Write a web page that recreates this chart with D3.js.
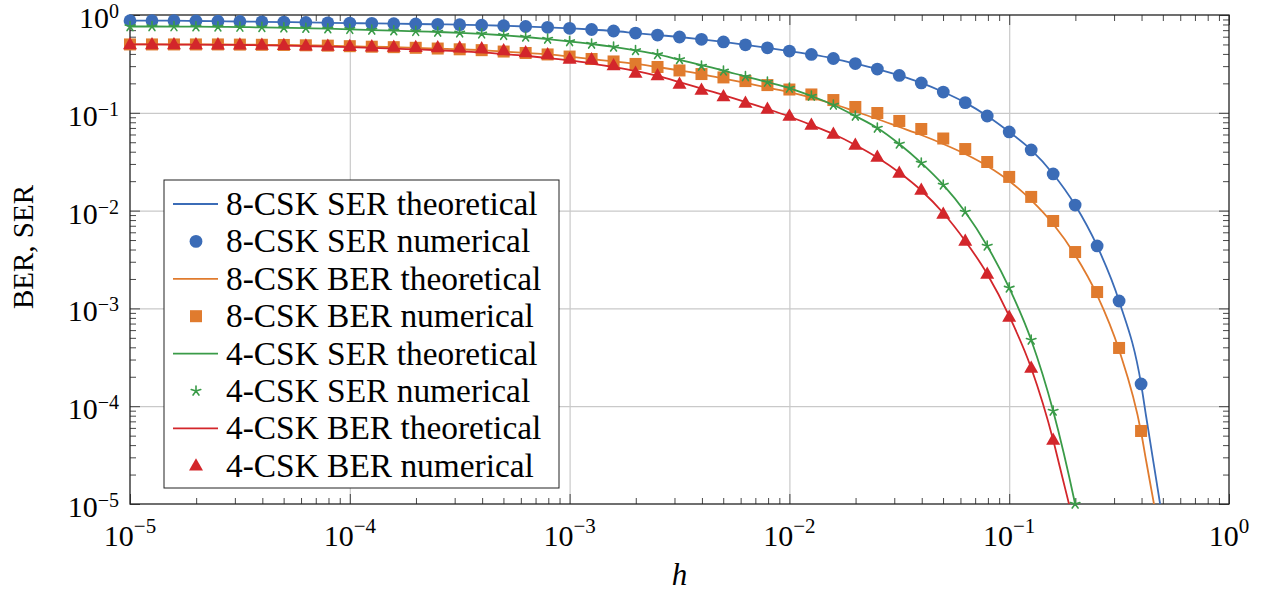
<!DOCTYPE html>
<html><head><meta charset="utf-8">
<script src="https://cdn.jsdelivr.net/npm/d3@7"></script>
<style>
body{margin:0;background:#fff}
svg{display:block}
text{font-family:"Liberation Serif","DejaVu Serif",serif;fill:#000}
</style>
</head><body>
<svg id="chart" width="1271" height="593"></svg>
<script>
// ---------------- data ----------------
const hValues = [1e-5,1.259e-5,1.585e-5,1.995e-5,2.512e-5,3.162e-5,3.981e-5,5.012e-5,6.31e-5,7.943e-5,
  1e-4,1.259e-4,1.585e-4,1.995e-4,2.512e-4,3.162e-4,3.981e-4,5.012e-4,6.31e-4,7.943e-4,
  1e-3,1.259e-3,1.585e-3,1.995e-3,2.512e-3,3.162e-3,3.981e-3,5.012e-3,6.31e-3,7.943e-3,
  1e-2,1.259e-2,1.585e-2,1.995e-2,2.512e-2,3.162e-2,3.981e-2,5.012e-2,6.31e-2,7.943e-2,
  0.1,0.1259,0.1585,0.1995,0.2512,0.3162,0.3981];

const ser8Num = [0.874,0.874,0.874,0.868,0.864,0.858,0.852,0.846,0.840,0.832,
  0.826,0.821,0.815,0.809,0.803,0.796,0.787,0.776,0.763,0.748,
  0.731,0.711,0.686,0.654,0.624,0.596,0.564,0.530,0.496,0.462,
  0.428,0.395,0.359,0.319,0.280,0.241,0.202,0.163,0.127,0.0927,
  0.0637,0.0417,0.0237,0.0114,0.00435,0.00119,0.000169];
const ser8Th = [0.874,0.874,0.874,0.868,0.864,0.858,0.852,0.846,0.840,0.832,
  0.826,0.821,0.815,0.809,0.803,0.796,0.787,0.776,0.763,0.748,
  0.731,0.711,0.686,0.654,0.624,0.596,0.564,0.530,0.496,0.462,
  0.428,0.395,0.359,0.319,0.280,0.241,0.202,0.163,0.127,0.0927,
  0.0637,0.0417,0.0237,0.0114,0.00435,0.00119,0.000169];
const ser8ThTailH = [0.42,0.447,0.473,0.5];
const ser8ThTail  = [7.8e-5,3.24e-5,1.46e-5,6.7e-6];

const ber8Num = [0.500,0.500,0.500,0.500,0.500,0.498,0.496,0.494,0.490,0.486,
  0.480,0.474,0.469,0.462,0.454,0.446,0.437,0.423,0.409,0.395,
  0.376,0.355,0.335,0.316,0.294,0.271,0.249,0.230,0.211,0.192,
  0.173,0.154,0.135,0.1147,0.0995,0.0825,0.0683,0.0546,0.0426,0.0314,
  0.0221,0.0138,0.00783,0.00377,0.00147,0.000394,0.0000558];
const ber8Th = [0.500,0.500,0.500,0.500,0.500,0.498,0.496,0.494,0.490,0.486,
  0.480,0.474,0.469,0.462,0.454,0.446,0.437,0.423,0.409,0.395,
  0.376,0.355,0.335,0.316,0.294,0.271,0.249,0.224,0.202,0.181,
  0.163,0.143,0.123,0.1031,0.0864,0.0716,0.0593,0.0480,0.0379,0.0286,
  0.0201,0.0128,0.00729,0.00352,0.00137,0.000375,0.0000545];
const ber8ThTailH = [0.42,0.447,0.473];
const ber8ThTail  = [2.75e-5,1.27e-5,6.3e-6];

const ser4Num = [0.763,0.763,0.761,0.759,0.756,0.752,0.747,0.740,0.733,0.724,
  0.714,0.702,0.691,0.681,0.670,0.658,0.642,0.621,0.596,0.568,
  0.536,0.505,0.471,0.434,0.395,0.351,0.301,0.268,0.235,0.206,
  0.179,0.1485,0.1202,0.0927,0.0699,0.0480,0.0307,0.0183,0.00967,0.00435,
  0.00162,0.000475,0.0000893,0.00001];
const ser4Th = [0.763,0.763,0.761,0.759,0.756,0.752,0.747,0.740,0.733,0.724,
  0.714,0.702,0.691,0.681,0.670,0.658,0.642,0.621,0.596,0.568,
  0.536,0.505,0.471,0.434,0.395,0.348,0.307,0.270,0.235,0.206,
  0.179,0.1485,0.1202,0.0927,0.0699,0.0480,0.0307,0.0183,0.00967,0.00435,
  0.00162,0.000475,0.0000893,0.00001];
const ser4ThTailH = [0.22];
const ser4ThTail  = [3.4e-6];

const ber4Num = [0.500,0.500,0.500,0.499,0.498,0.496,0.494,0.490,0.486,0.482,
  0.479,0.475,0.472,0.469,0.465,0.462,0.454,0.434,0.414,0.395,
  0.355,0.351,0.305,0.255,0.241,0.197,0.171,0.1468,0.126,0.1094,
  0.0927,0.0750,0.0607,0.0469,0.0353,0.0242,0.01624,0.00923,0.00489,0.00225,
  0.000817,0.000246,0.0000451];
const ber4Th = [0.500,0.500,0.499,0.498,0.496,0.494,0.490,0.486,0.481,0.475,
  0.469,0.461,0.453,0.445,0.436,0.425,0.414,0.399,0.383,0.363,
  0.343,0.319,0.294,0.268,0.238,0.206,0.177,0.152,0.129,0.1094,
  0.0917,0.0750,0.0607,0.0469,0.0349,0.0245,0.01605,0.00945,0.00489,0.00225,
  0.000836,0.000246,0.0000451];
const ber4ThTailH = [0.17,0.18,0.19];
const ber4ThTail  = [2.39e-5,1.42e-5,8.7e-6];

const majorTicks = [1e-5,1e-4,1e-3,1e-2,1e-1,1];
const majorExp = ["−5","−4","−3","−2","−1","0"];
const legendLabels = ["8-CSK SER theoretical","8-CSK SER numerical","8-CSK BER theoretical","8-CSK BER numerical",
  "4-CSK SER theoretical","4-CSK SER numerical","4-CSK BER theoretical","4-CSK BER numerical"];
const xLabel = "h";
const yLabel = "BER, SER";

// ---------------- layout ----------------
const FONT = "Liberation Serif, DejaVu Serif, serif";
const L = 130, R = 1229, T = 15, B = 504;
const svg = d3.select("#chart");
const x = d3.scaleLog().domain([1e-5, 1]).range([L, R]);
const y = d3.scaleLog().domain([1e-5, 1]).range([B, T]);

const colors = {blue:"#3b6cb7", orange:"#e07b2e", green:"#3a9b48", red:"#d3262b"};

const minorTicks = [];
for (let e = -5; e < 0; e++) for (let m = 2; m <= 9; m++) minorTicks.push(m * Math.pow(10, e));

// grid
const grid = svg.append("g").attr("class","grid");
grid.append("g").attr("transform",`translate(0,${B})`)
  .call(d3.axisBottom(x).tickValues(majorTicks.slice(1,-1)).tickSize(-(B-T)).tickFormat(""))
  .call(g=>g.select(".domain").remove())
  .call(g=>g.selectAll("line").attr("stroke","#c9c9c9").attr("stroke-width",1.2));
grid.append("g").attr("transform",`translate(${L},0)`)
  .call(d3.axisLeft(y).tickValues(majorTicks.slice(1,-1)).tickSize(-(R-L)).tickFormat(""))
  .call(g=>g.select(".domain").remove())
  .call(g=>g.selectAll("line").attr("stroke","#c9c9c9").attr("stroke-width",1.2));

// ticks (inward on all sides)
function tickAxis(axisFn, scale, vals, size, transform) {
  svg.append("g").attr("transform", transform)
    .call(axisFn(scale).tickValues(vals).tickSize(-size).tickFormat(""))
    .call(g=>g.select(".domain").remove())
    .call(g=>g.selectAll("line").attr("stroke","#333").attr("stroke-width",0.9));
}
tickAxis(d3.axisBottom, x, majorTicks, 10, `translate(0,${B})`);
tickAxis(d3.axisBottom, x, minorTicks, 6, `translate(0,${B})`);
tickAxis(d3.axisTop, x, majorTicks, 10, `translate(0,${T})`);
tickAxis(d3.axisTop, x, minorTicks, 6, `translate(0,${T})`);
tickAxis(d3.axisLeft, y, majorTicks, 10, `translate(${L},0)`);
tickAxis(d3.axisLeft, y, minorTicks, 6, `translate(${L},0)`);
tickAxis(d3.axisRight, y, majorTicks, 10, `translate(${R},0)`);
tickAxis(d3.axisRight, y, minorTicks, 6, `translate(${R},0)`);

// frame
svg.append("rect").attr("x",L).attr("y",T).attr("width",R-L).attr("height",B-T)
  .attr("fill","none").attr("stroke","#222").attr("stroke-width",1.3);

// tick labels
majorTicks.forEach((v,i)=>{
  const tx = svg.append("text").attr("x", x(v)).attr("y", 546).attr("text-anchor","middle")
    .attr("font-family",FONT).attr("font-size",30);
  tx.append("tspan").text("10");
  tx.append("tspan").attr("dy",-13).attr("font-size",21).text(majorExp[i]);
  const ty = svg.append("text").attr("x", 119).attr("y", y(v)+13).attr("text-anchor","end")
    .attr("font-family",FONT).attr("font-size",30);
  ty.append("tspan").text("10");
  ty.append("tspan").attr("dy",-10).attr("font-size",20).text(majorExp[i]);
});

// axis labels
svg.append("text").attr("x",(L+R)/2).attr("y",585).attr("text-anchor","middle")
  .attr("font-family",FONT).attr("font-size",31).attr("font-style","italic").text(xLabel);
svg.append("text").attr("transform",`translate(33,247) rotate(-90)`).attr("text-anchor","middle")
  .attr("font-family",FONT).attr("font-size",29).text(yLabel);

// clip
svg.append("defs").append("clipPath").attr("id","clip")
  .append("rect").attr("x",L).attr("y",T).attr("width",R-L).attr("height",B-T);

const line = d3.line().x(d=>x(d[0])).y(d=>y(d[1])).curve(d3.curveMonotoneX);
function pairs(hs, vs){ return vs.map((v,i)=>[hs[i], v]); }

function drawLine(vals, tailH, tail, color){
  const pts = pairs(hValues, vals).concat(pairs(tailH, tail));
  svg.append("path").attr("clip-path","url(#clip)").attr("d", line(pts))
    .attr("fill","none").attr("stroke",color).attr("stroke-width",1.8);
}

const sym = {
  circle: (g, cx, cy, c) => g.append("circle").attr("cx",cx).attr("cy",cy).attr("r",6.4).attr("fill",c),
  square: (g, cx, cy, c) => g.append("rect").attr("x",cx-6).attr("y",cy-6).attr("width",12).attr("height",12).attr("fill",c),
  triangle: (g, cx, cy, c) => g.append("path")
      .attr("d",`M${cx},${cy-7.5}L${cx+7},${cy+4.8}L${cx-7},${cy+4.8}Z`).attr("fill",c),
  star: (g, cx, cy, c) => {
    let d = "";
    for (let k=0;k<5;k++){ const a = -Math.PI/2 + k*2*Math.PI/5; d += `M${cx},${cy}L${cx+5*Math.cos(a)},${cy+5*Math.sin(a)}`; }
    g.append("path").attr("d",d).attr("stroke",c).attr("stroke-width",1.6).attr("fill","none").attr("stroke-linecap","round");
  }
};
function drawMarks(vals, type, color){
  const g = svg.append("g");
  vals.forEach((v,i)=>{ if (v >= 1e-5*0.999) sym[type](g, x(hValues[i]), y(v), color); });
}

drawLine(ser8Th, ser8ThTailH, ser8ThTail, colors.blue);
drawMarks(ser8Num, "circle", colors.blue);
drawLine(ber8Th, ber8ThTailH, ber8ThTail, colors.orange);
drawMarks(ber8Num, "square", colors.orange);
drawLine(ser4Th, ser4ThTailH, ser4ThTail, colors.green);
drawMarks(ser4Num, "star", colors.green);
drawLine(ber4Th, ber4ThTailH, ber4ThTail, colors.red);
drawMarks(ber4Num, "triangle", colors.red);

// legend
const lg = svg.append("g");
lg.append("rect").attr("x",164).attr("y",180).attr("width",395).attr("height",308)
  .attr("fill","#fff").attr("stroke","#222").attr("stroke-width",1);
const legendItems = [
  {t:"line", c:colors.blue},{t:"circle", c:colors.blue},
  {t:"line", c:colors.orange},{t:"square", c:colors.orange},
  {t:"line", c:colors.green},{t:"star", c:colors.green},
  {t:"line", c:colors.red},{t:"triangle", c:colors.red}];
legendItems.forEach((it,i)=>{
  const cy = 204 + i*37.4;
  if (it.t === "line") lg.append("line").attr("x1",173).attr("x2",218).attr("y1",cy).attr("y2",cy)
      .attr("stroke",it.c).attr("stroke-width",1.8);
  else sym[it.t](lg, 196, cy, it.c);
  lg.append("text").attr("x",226).attr("y",cy+11).attr("font-family",FONT).attr("font-size",33.4).text(legendLabels[i]);
});
</script>
</body></html>
